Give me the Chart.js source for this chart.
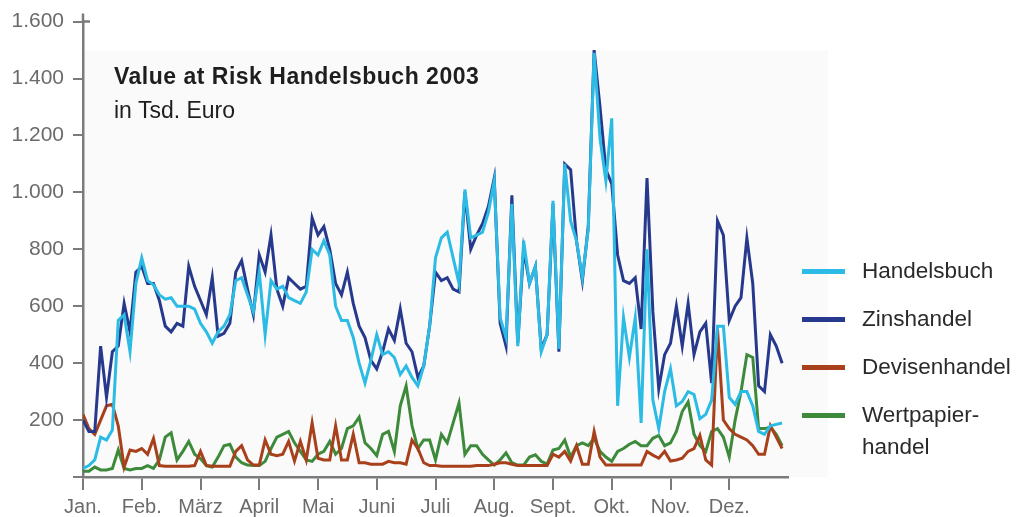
<!DOCTYPE html>
<html lang="de">
<head>
<meta charset="utf-8">
<script src="https://cdn.jsdelivr.net/npm/chart.js@4.4.1/dist/chart.umd.min.js"></script>
<style>
  html, body { margin: 0; padding: 0; background: #fff; }
  #wrap { position: relative; width: 1026px; height: 517px; overflow: hidden; font-family: "Liberation Sans", Arial, sans-serif; }
  canvas { position: absolute; left: 0; top: 0; }
  .title { position: absolute; left: 114px; top: 63px; font-size: 23px; font-weight: bold; color: #1e1e1e; letter-spacing: 0.5px; }
  .sub { position: absolute; left: 114px; top: 97px; font-size: 23px; color: #1e1e1e; }
  .leg { position: absolute; left: 802px; font-size: 22.5px; color: #2a2a2a; line-height: 32px; }
  .leg i { position: absolute; left: 0; top: 14px; width: 43px; height: 5px; }
  .leg span { position: absolute; left: 60px; top: 0; white-space: nowrap; }
</style>
</head>
<body>
<div id="wrap">
  <canvas id="varChart" width="1026" height="517"></canvas>
  <div class="title">Value at Risk Handelsbuch 2003</div>
  <div class="sub">in Tsd. Euro</div>
  <div class="leg" style="top:255px"><i style="background:#2bbbe4"></i><span>Handelsbuch</span></div>
  <div class="leg" style="top:303px"><i style="background:#27398c"></i><span>Zinshandel</span></div>
  <div class="leg" style="top:351px"><i style="background:#a8401c"></i><span>Devisenhandel</span></div>
  <div class="leg" style="top:399px"><i style="background:#3d8a3a"></i><span>Wertpapier-<br>handel</span></div>
</div>
<script>
// Monatsnamen (Achse in Monaten, ein Wert alle 0,1 Monate)
const months = ['Jan.', 'Feb.', 'März', 'April', 'Mai', 'Juni', 'Juli', 'Aug.', 'Sept.', 'Okt.', 'Nov.', 'Dez.'];
const yTicks = [0, 200, 400, 600, 800, 1000, 1200, 1400, 1600];
const step = 0.1;

// Werte in Tsd. Euro
const handelsbuch = [
  30, 40, 60, 140, 130, 165, 550, 570, 440, 680,
  770, 690, 675, 640, 625, 630, 600, 600, 600, 590,
  540, 510, 470, 510, 530, 570, 690, 700, 640, 580,
  720, 500, 690, 660, 670, 630, 620, 610, 650, 800,
  780, 830, 780, 600, 550, 550, 490, 400, 330, 410,
  500, 430, 440, 420, 360, 390, 350, 320, 390, 530,
  770, 840, 860, 770, 680, 1010, 840, 850, 860, 930,
  1040, 560, 490, 960, 460, 830, 680, 740, 440, 500,
  970, 450, 1100, 900, 830, 700, 870, 1490, 1190, 1040,
  1260, 250, 560, 420, 560, 190, 800, 270, 170, 300,
  380, 250, 265, 300, 290, 205, 220, 270, 530, 530,
  280, 255, 300, 300, 250, 160, 150, 180, 185, 190
];
const zinshandel = [
  200, 160, 160, 460, 280, 440, 460, 610, 510, 720,
  740, 680, 680, 620, 530, 510, 540, 530, 740, 670,
  620, 570, 700, 495, 505, 540, 720, 760, 660, 570,
  780, 720, 850, 660, 600, 700, 680, 660, 670, 910,
  850, 880, 800, 680, 640, 720, 610, 530, 490, 410,
  380, 440, 520, 480, 590, 470, 440, 350, 390, 530,
  720, 690, 700, 660, 650, 1000, 800, 850, 890, 950,
  1050, 540, 460, 990, 470, 800, 680, 740, 450, 500,
  960, 440, 1100, 1080, 830, 690, 880, 1500, 1300, 1080,
  1030, 780, 690, 680, 700, 520, 1050, 580, 310, 430,
  470, 600, 460, 610, 430, 510, 540, 330, 900, 850,
  550, 600, 630, 840, 680, 320, 300, 500, 460, 400
];
const devisenhandel = [
  220, 170, 150, 200, 250, 255, 180, 35, 95, 90,
  100, 80, 135, 40, 38, 38, 38, 38, 38, 40,
  90, 40, 38, 38, 38, 38, 90, 110, 60, 42,
  42, 130, 80, 75, 80, 125, 56, 125, 60, 190,
  66, 60, 60, 180, 60, 60, 150, 50, 50, 45,
  45, 45, 55, 50, 50, 45, 130, 100, 50, 40,
  40, 38, 38, 38, 38, 38, 38, 40, 40, 40,
  45, 50, 50, 45, 40, 40, 40, 40, 40, 40,
  80, 70, 90, 56, 110, 45, 45, 160, 70, 42,
  42, 42, 42, 42, 42, 42, 90, 77, 66, 90,
  56, 60, 66, 90, 100, 146, 60, 42, 520, 200,
  170, 150, 140, 130, 110, 80, 80, 180, 140, 100
];
const wertpapierhandel = [
  20, 20, 35, 25, 25, 30, 95, 30, 25, 30,
  30, 40, 30, 60, 140, 155, 60, 90, 125, 80,
  65, 40, 35, 70, 110, 115, 70, 50, 42, 40,
  40, 55, 100, 140, 150, 160, 120, 90, 60, 55,
  80, 90, 125, 80, 100, 170, 180, 210, 120, 100,
  75, 150, 160, 90, 250, 320, 180, 100, 130, 130,
  60, 150, 120, 190, 260, 80, 110, 110, 80, 60,
  42, 60, 85, 50, 42, 42, 70, 78, 55, 45,
  95, 100, 130, 70, 110, 120, 110, 136, 90, 70,
  55, 90, 100, 115, 125, 110, 110, 136, 146, 110,
  120, 160, 230, 264, 150, 110, 90, 160, 170, 140,
  70, 200, 300, 430, 420, 170, 170, 175, 150, 110
];

const toPoints = vals => vals.map((v, i) => ({ x: i * step, y: v }));
const axisGray = '#7b7b7b';

function fmt(v) {
  if (v === 0) return '';
  if (v >= 1000) return Math.floor(v / 1000) + '.' + String(v % 1000).padStart(3, '0');
  return String(v);
}

// heller Hintergrund der Grafik + Verlängerung der y-Achse
const panel = {
  id: 'panel',
  beforeDraw(chart) {
    const { ctx, chartArea: a } = chart;
    ctx.save();
    ctx.fillStyle = '#fafafa';
    ctx.fillRect(a.left + 2, a.top + 29, a.right - a.left + 38, a.bottom - a.top - 29);
    ctx.restore();
  },
  afterDraw(chart) {
    const { ctx, chartArea: a } = chart;
    ctx.save();
    ctx.strokeStyle = axisGray;
    ctx.lineWidth = 2.5;
    ctx.beginPath();
    ctx.moveTo(a.left, a.top);
    ctx.lineTo(a.left, a.top - 8);
    ctx.moveTo(a.left, a.top);
    ctx.lineTo(a.left + 7, a.top);
    ctx.stroke();
    ctx.restore();
  }
};

const ds = (label, vals, color) => ({
  label,
  data: toPoints(vals),
  borderColor: color,
  backgroundColor: color,
  borderWidth: 3,
  pointRadius: 0,
  tension: 0,
  fill: false
});

new Chart(document.getElementById('varChart'), {
  type: 'line',
  data: {
    datasets: [
      ds('Handelsbuch', handelsbuch, '#2bbbe4'),
      ds('Zinshandel', zinshandel, '#27398c'),
      ds('Devisenhandel', devisenhandel, '#a8401c'),
      ds('Wertpapierhandel', wertpapierhandel, '#3d8a3a')
    ]
  },
  options: {
    responsive: false,
    animation: false,
    layout: { padding: { top: 20, right: 238, bottom: 0, left: 0 } },
    plugins: { legend: { display: false }, tooltip: { enabled: false } },
    scales: {
      x: {
        type: 'linear',
        min: 0,
        max: 12,
        afterFit: s => { s.height = 40; },
        afterBuildTicks: s => { s.ticks = months.map((m, i) => ({ value: i })); },
        ticks: {
          callback: v => months[v] || '',
          color: '#6b6b6b',
          font: { family: 'Liberation Sans', size: 20 },
          padding: 5,
          maxRotation: 0,
          autoSkip: false
        },
        grid: { drawOnChartArea: false, color: axisGray, lineWidth: 2, tickLength: 13 },
        border: { color: axisGray, width: 2.5 }
      },
      y: {
        min: 0,
        max: 1600,
        afterFit: s => { s.width = 83; },
        afterBuildTicks: s => { s.ticks = yTicks.map(v => ({ value: v })); },
        ticks: {
          callback: v => fmt(v),
          color: '#6b6b6b',
          font: { family: 'Liberation Sans', size: 21 },
          padding: 9
        },
        grid: { drawOnChartArea: false, color: axisGray, lineWidth: 2, tickLength: 10 },
        border: { color: axisGray, width: 2.5 }
      }
    }
  },
  plugins: [panel]
});
</script>
</body>
</html>
